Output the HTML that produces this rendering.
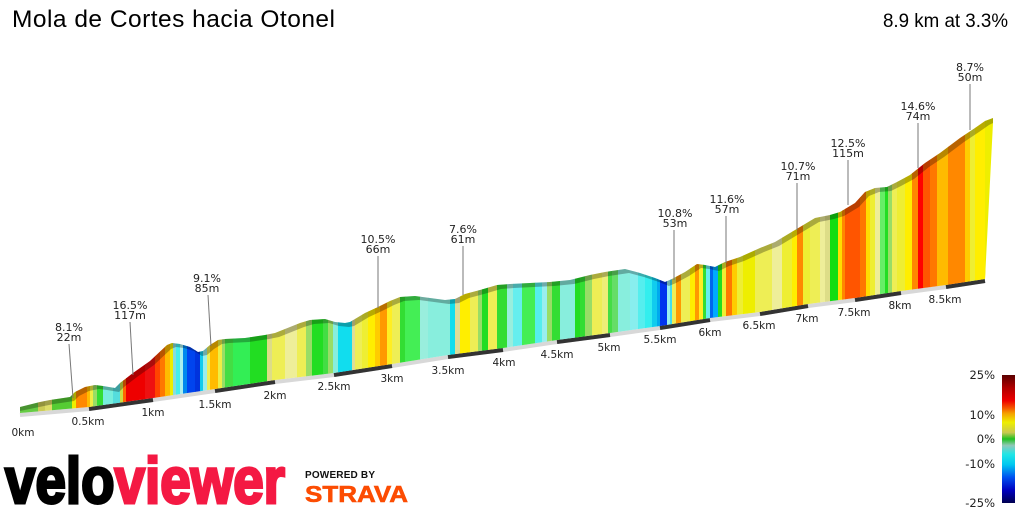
<!DOCTYPE html>
<html><head><meta charset="utf-8"><style>
html,body{margin:0;padding:0;background:#fff;}
svg{display:block;}
</style></head><body>
<svg width="1024" height="512" viewBox="0 0 1024 512" xmlns="http://www.w3.org/2000/svg">
<defs>
<clipPath id="cp">
<polygon points="20,407 40,402 50,400 70,397 75,392 85,387 95,385 103,386 115,388 120,383 133,373 150,361 167,345 172,343 180,344 190,347 198,352 203,351 210,345 218,340 225,339 245,338 265,335 275,333 290,327 300,323 310,320 325,319 335,322 345,323 350,322 365,313 378,307 390,301 400,297 415,296 430,298 445,300 455,299 465,294 480,290 497,285 510,284 530,283 550,282 570,280 590,275 605,272 625,269 640,273 655,278 665,282 672,279 685,272 697,264 705,265 715,267 725,262 740,257 760,248 775,242 790,233 800,227 815,218 830,215 840,212 855,203 865,192 875,188 887,187 897,182 910,175 925,163 940,153 960,138 975,128 985,121 993,118 993,123 985,279 946,285 901,291 855,298 808,304 760,312 710,318 660,326 610,333 557,340 503,348 448,355 392,364 334,373 275,380 215,389 153,398 89,407 20,413"/>
</clipPath>
<linearGradient id="lg" x1="0" y1="0" x2="0" y2="1">
<stop offset="0" stop-color="#5a0000"/>
<stop offset="0.1" stop-color="#b00000"/>
<stop offset="0.2" stop-color="#ee0000"/>
<stop offset="0.26" stop-color="#f55a00"/>
<stop offset="0.3" stop-color="#f5a000"/>
<stop offset="0.37" stop-color="#eeee00"/>
<stop offset="0.45" stop-color="#c8c850"/>
<stop offset="0.5" stop-color="#20c020"/>
<stop offset="0.55" stop-color="#90c8b8"/>
<stop offset="0.62" stop-color="#20e6e6"/>
<stop offset="0.7" stop-color="#00c8f0"/>
<stop offset="0.8" stop-color="#0050f0"/>
<stop offset="0.9" stop-color="#0000c0"/>
<stop offset="1" stop-color="#000050"/>
</linearGradient>
</defs>

<!-- Title -->
<text x="12" y="27" font-family="Liberation Sans, Arial, sans-serif" font-size="24.5" fill="#000" textLength="323" lengthAdjust="spacing">Mola de Cortes hacia Otonel</text>
<text x="883" y="27" font-family="Liberation Sans, Arial, sans-serif" font-size="19.5" fill="#000" textLength="125" lengthAdjust="spacingAndGlyphs">8.9 km at 3.3%</text>

<!-- band -->
<polyline points="20,415 89,409 153,400 215,391 275,382 334,375 392,366 448,357 503,350 557,342 610,335 660,328 710,320 760,314 808,306 855,300 901,293 946,287 985,281" fill="none" stroke="#d8d8d8" stroke-width="4"/>
<g stroke="#333" stroke-width="4">
<line x1="89" y1="409" x2="153" y2="400"/>
<line x1="215" y1="391" x2="275" y2="382"/>
<line x1="334" y1="375" x2="392" y2="366"/>
<line x1="448" y1="357" x2="503" y2="350"/>
<line x1="557" y1="342" x2="610" y2="335"/>
<line x1="660" y1="328" x2="710" y2="320"/>
<line x1="760" y1="314" x2="808" y2="306"/>
<line x1="855" y1="300" x2="901" y2="293"/>
<line x1="946" y1="287" x2="985" y2="281"/>
</g>

<!-- profile strips -->
<g clip-path="url(#cp)">
<rect x="20" y="100" width="18.5" height="330" fill="#66cc44"/>
<rect x="38" y="100" width="7.5" height="330" fill="#cccc55"/>
<rect x="45" y="100" width="7.5" height="330" fill="#dddd66"/>
<rect x="52" y="100" width="20.5" height="330" fill="#55cc33"/>
<rect x="72" y="100" width="4.5" height="330" fill="#eeee00"/>
<rect x="76" y="100" width="11.5" height="330" fill="#ff8800"/>
<rect x="87" y="100" width="3.5" height="330" fill="#ffbb00"/>
<rect x="90" y="100" width="3.5" height="330" fill="#eeee44"/>
<rect x="93" y="100" width="4.5" height="330" fill="#99dd66"/>
<rect x="97" y="100" width="6.5" height="330" fill="#33dd33"/>
<rect x="103" y="100" width="10.5" height="330" fill="#77eedd"/>
<rect x="113" y="100" width="7.5" height="330" fill="#55dddd"/>
<rect x="120" y="100" width="3.5" height="330" fill="#ccdd44"/>
<rect x="123" y="100" width="3.5" height="330" fill="#ff6600"/>
<rect x="126" y="100" width="19.5" height="330" fill="#ee0000"/>
<rect x="145" y="100" width="10.5" height="330" fill="#ee1111"/>
<rect x="155" y="100" width="5.5" height="330" fill="#ff4400"/>
<rect x="160" y="100" width="5.5" height="330" fill="#ff7700"/>
<rect x="165" y="100" width="5.5" height="330" fill="#ffbb00"/>
<rect x="170" y="100" width="3.5" height="330" fill="#eeee00"/>
<rect x="173" y="100" width="3.5" height="330" fill="#88dddd"/>
<rect x="176" y="100" width="4.5" height="330" fill="#44eeee"/>
<rect x="180" y="100" width="3.5" height="330" fill="#aaeeee"/>
<rect x="183" y="100" width="4.5" height="330" fill="#0088ee"/>
<rect x="187" y="100" width="8.5" height="330" fill="#0044ee"/>
<rect x="195" y="100" width="5.5" height="330" fill="#0033dd"/>
<rect x="200" y="100" width="3.5" height="330" fill="#11ccee"/>
<rect x="203" y="100" width="4.5" height="330" fill="#99eeee"/>
<rect x="207" y="100" width="3.5" height="330" fill="#eeee55"/>
<rect x="210" y="100" width="8.5" height="330" fill="#ffbb00"/>
<rect x="218" y="100" width="4.5" height="330" fill="#eeee44"/>
<rect x="222" y="100" width="3.5" height="330" fill="#99dd66"/>
<rect x="225" y="100" width="8.5" height="330" fill="#44dd44"/>
<rect x="233" y="100" width="17.5" height="330" fill="#33ee55"/>
<rect x="250" y="100" width="17.5" height="330" fill="#22dd22"/>
<rect x="267" y="100" width="5.5" height="330" fill="#dddd88"/>
<rect x="272" y="100" width="13.5" height="330" fill="#eeee55"/>
<rect x="285" y="100" width="12.5" height="330" fill="#eeee99"/>
<rect x="297" y="100" width="9.5" height="330" fill="#eeee55"/>
<rect x="306" y="100" width="6.5" height="330" fill="#99dd66"/>
<rect x="312" y="100" width="11.5" height="330" fill="#22dd22"/>
<rect x="323" y="100" width="5.5" height="330" fill="#44dd44"/>
<rect x="328" y="100" width="5.5" height="330" fill="#99dd66"/>
<rect x="333" y="100" width="5.5" height="330" fill="#88eedd"/>
<rect x="338" y="100" width="14.5" height="330" fill="#11ddee"/>
<rect x="352" y="100" width="3.5" height="330" fill="#dddd99"/>
<rect x="355" y="100" width="7.5" height="330" fill="#eeee55"/>
<rect x="362" y="100" width="6.5" height="330" fill="#eeee33"/>
<rect x="368" y="100" width="7.5" height="330" fill="#ffee00"/>
<rect x="375" y="100" width="5.5" height="330" fill="#ffcc00"/>
<rect x="380" y="100" width="7.5" height="330" fill="#ff9900"/>
<rect x="387" y="100" width="5.5" height="330" fill="#ffee22"/>
<rect x="392" y="100" width="8.5" height="330" fill="#eeee55"/>
<rect x="400" y="100" width="5.5" height="330" fill="#33dd33"/>
<rect x="405" y="100" width="15.5" height="330" fill="#44ee55"/>
<rect x="420" y="100" width="8.5" height="330" fill="#99eedd"/>
<rect x="428" y="100" width="22.5" height="330" fill="#88eedd"/>
<rect x="450" y="100" width="5.5" height="330" fill="#11ddee"/>
<rect x="455" y="100" width="5.5" height="330" fill="#dddd99"/>
<rect x="460" y="100" width="10.5" height="330" fill="#ffee00"/>
<rect x="470" y="100" width="8.5" height="330" fill="#eeee55"/>
<rect x="478" y="100" width="4.5" height="330" fill="#99dd66"/>
<rect x="482" y="100" width="6.5" height="330" fill="#22dd22"/>
<rect x="488" y="100" width="9.5" height="330" fill="#eeee55"/>
<rect x="497" y="100" width="10.5" height="330" fill="#33dd33"/>
<rect x="507" y="100" width="6.5" height="330" fill="#99eedd"/>
<rect x="513" y="100" width="9.5" height="330" fill="#66eeee"/>
<rect x="522" y="100" width="13.5" height="330" fill="#44ee55"/>
<rect x="535" y="100" width="7.5" height="330" fill="#55eeee"/>
<rect x="542" y="100" width="5.5" height="330" fill="#99eeee"/>
<rect x="547" y="100" width="5.5" height="330" fill="#99dd66"/>
<rect x="552" y="100" width="8.5" height="330" fill="#33dd33"/>
<rect x="560" y="100" width="15.5" height="330" fill="#88eedd"/>
<rect x="575" y="100" width="5.5" height="330" fill="#22dd22"/>
<rect x="580" y="100" width="5.5" height="330" fill="#33dd33"/>
<rect x="585" y="100" width="7.5" height="330" fill="#99dd66"/>
<rect x="592" y="100" width="10.5" height="330" fill="#eeee55"/>
<rect x="602" y="100" width="6.5" height="330" fill="#eeee77"/>
<rect x="608" y="100" width="4.5" height="330" fill="#44dd44"/>
<rect x="612" y="100" width="6.5" height="330" fill="#66dd66"/>
<rect x="618" y="100" width="12.5" height="330" fill="#88eedd"/>
<rect x="630" y="100" width="8.5" height="330" fill="#88eeee"/>
<rect x="638" y="100" width="7.5" height="330" fill="#55eeee"/>
<rect x="645" y="100" width="7.5" height="330" fill="#33eeee"/>
<rect x="652" y="100" width="5.5" height="330" fill="#11ccee"/>
<rect x="657" y="100" width="3.5" height="330" fill="#00aaee"/>
<rect x="660" y="100" width="7.5" height="330" fill="#0033ee"/>
<rect x="667" y="100" width="3.5" height="330" fill="#99eeee"/>
<rect x="670" y="100" width="2.5" height="330" fill="#44ddee"/>
<rect x="672" y="100" width="4.5" height="330" fill="#eeee55"/>
<rect x="676" y="100" width="5.5" height="330" fill="#ff9900"/>
<rect x="681" y="100" width="9.5" height="330" fill="#eeee55"/>
<rect x="690" y="100" width="5.5" height="330" fill="#ffee00"/>
<rect x="695" y="100" width="4.5" height="330" fill="#ff9900"/>
<rect x="699" y="100" width="4.5" height="330" fill="#ffee22"/>
<rect x="703" y="100" width="3.5" height="330" fill="#33dd33"/>
<rect x="706" y="100" width="4.5" height="330" fill="#66eeee"/>
<rect x="710" y="100" width="3.5" height="330" fill="#0066ee"/>
<rect x="713" y="100" width="5.5" height="330" fill="#00aaff"/>
<rect x="718" y="100" width="4.5" height="330" fill="#22dd22"/>
<rect x="722" y="100" width="4.5" height="330" fill="#eeee33"/>
<rect x="726" y="100" width="6.5" height="330" fill="#ff7700"/>
<rect x="732" y="100" width="5.5" height="330" fill="#ffcc00"/>
<rect x="737" y="100" width="6.5" height="330" fill="#eeee33"/>
<rect x="743" y="100" width="12.5" height="330" fill="#eeee00"/>
<rect x="755" y="100" width="17.5" height="330" fill="#eeee55"/>
<rect x="772" y="100" width="10.5" height="330" fill="#eeee99"/>
<rect x="782" y="100" width="10.5" height="330" fill="#eeee33"/>
<rect x="792" y="100" width="5.5" height="330" fill="#ffee00"/>
<rect x="797" y="100" width="6.5" height="330" fill="#ff8800"/>
<rect x="803" y="100" width="7.5" height="330" fill="#eeee33"/>
<rect x="810" y="100" width="10.5" height="330" fill="#eeee55"/>
<rect x="820" y="100" width="5.5" height="330" fill="#eeee99"/>
<rect x="825" y="100" width="5.5" height="330" fill="#dddd88"/>
<rect x="830" y="100" width="8.5" height="330" fill="#11dd11"/>
<rect x="838" y="100" width="4.5" height="330" fill="#ffdd00"/>
<rect x="842" y="100" width="3.5" height="330" fill="#ff8800"/>
<rect x="845" y="100" width="15.5" height="330" fill="#ff5500"/>
<rect x="860" y="100" width="6.5" height="330" fill="#ff7700"/>
<rect x="866" y="100" width="4.5" height="330" fill="#ffdd00"/>
<rect x="870" y="100" width="5.5" height="330" fill="#eeee33"/>
<rect x="875" y="100" width="5.5" height="330" fill="#eeee99"/>
<rect x="880" y="100" width="5.5" height="330" fill="#66ee66"/>
<rect x="885" y="100" width="3.5" height="330" fill="#22dd22"/>
<rect x="888" y="100" width="4.5" height="330" fill="#99dd66"/>
<rect x="892" y="100" width="5.5" height="330" fill="#eeee55"/>
<rect x="897" y="100" width="8.5" height="330" fill="#eeee33"/>
<rect x="905" y="100" width="7.5" height="330" fill="#ffee00"/>
<rect x="912" y="100" width="6.5" height="330" fill="#ff8800"/>
<rect x="918" y="100" width="5.5" height="330" fill="#ff0000"/>
<rect x="923" y="100" width="7.5" height="330" fill="#ff5500"/>
<rect x="930" y="100" width="7.5" height="330" fill="#ff7700"/>
<rect x="937" y="100" width="11.5" height="330" fill="#ffbb00"/>
<rect x="948" y="100" width="17.5" height="330" fill="#ff8800"/>
<rect x="965" y="100" width="5.5" height="330" fill="#ffcc00"/>
<rect x="970" y="100" width="5.5" height="330" fill="#eeee33"/>
<rect x="975" y="100" width="10.5" height="330" fill="#ffee00"/>
<rect x="985" y="100" width="9" height="330" fill="#eeee00"/>
</g>

<!-- top face shading -->
<polygon fill="#000" fill-opacity="0.28" points="20,407 40,402 50,400 70,397 75,392 85,387 95,385 103,386 115,388 120,383 133,373 150,361 167,345 172,343 180,344 190,347 198,352 203,351 210,345 218,340 225,339 245,338 265,335 275,333 290,327 300,323 310,320 325,319 335,322 345,323 350,322 365,313 378,307 390,301 400,297 415,296 430,298 445,300 455,299 465,294 480,290 497,285 510,284 530,283 550,282 570,280 590,275 605,272 625,269 640,273 655,278 665,282 672,279 685,272 697,264 705,265 715,267 725,262 740,257 760,248 775,242 790,233 800,227 815,218 830,215 840,212 855,203 865,192 875,188 887,187 897,182 910,175 925,163 940,153 960,138 975,128 985,121 993,118 993,123 989,125 979,132 964,142 944,157 929,167 914,179 901,186 891,191 879,192 869,196 859,207 844,216 834,219 819,222 804,231 794,237 779,246 764,252 744,261 729,266 719,271 709,269 701,268 689,276 676,283 669,286 659,282 644,277 629,273 609,276 594,279 574,284 554,286 534,287 514,288 501,289 484,294 469,298 459,303 449,304 434,302 419,300 404,301 394,305 382,311 369,317 354,326 349,327 339,326 329,323 314,324 304,327 294,331 279,337 269,339 249,342 229,343 222,344 214,349 207,355 202,356 194,351 184,348 176,347 171,349 154,365 137,377 124,387 119,392 107,390 99,389 89,391 79,396 74,401 54,404 44,406 20,411"/>

<!-- km labels -->
<g font-family="DejaVu Sans, Verdana, sans-serif" font-size="10.5" fill="#222" text-anchor="middle">
<text x="23" y="436">0km</text>
<text x="88" y="425">0.5km</text>
<text x="153" y="416">1km</text>
<text x="215" y="408">1.5km</text>
<text x="275" y="399">2km</text>
<text x="334" y="390">2.5km</text>
<text x="392" y="382">3km</text>
<text x="448" y="374">3.5km</text>
<text x="504" y="366">4km</text>
<text x="557" y="358">4.5km</text>
<text x="609" y="351">5km</text>
<text x="660" y="343">5.5km</text>
<text x="710" y="336">6km</text>
<text x="759" y="329">6.5km</text>
<text x="807" y="322">7km</text>
<text x="854" y="316">7.5km</text>
<text x="900" y="309">8km</text>
<text x="945" y="303">8.5km</text>
</g>

<!-- annotations -->
<g stroke="#777" stroke-width="1">
<line x1="69" y1="344" x2="73" y2="398"/>
<line x1="130" y1="322" x2="133" y2="375"/>
<line x1="208" y1="295" x2="211" y2="346"/>
<line x1="378" y1="256" x2="378" y2="308"/>
<line x1="463" y1="246" x2="463" y2="295"/>
<line x1="674" y1="230" x2="674" y2="280"/>
<line x1="726" y1="216" x2="726" y2="263"/>
<line x1="797" y1="183" x2="797" y2="230"/>
<line x1="848" y1="160" x2="848" y2="205"/>
<line x1="918" y1="123" x2="918" y2="168"/>
<line x1="970" y1="84" x2="970" y2="130"/>
</g>
<g font-family="DejaVu Sans, Verdana, sans-serif" font-size="11" fill="#222" text-anchor="middle">
<text x="69" y="331">8.1%</text><text x="69" y="341">22m</text>
<text x="130" y="309">16.5%</text><text x="130" y="319">117m</text>
<text x="207" y="282">9.1%</text><text x="207" y="292">85m</text>
<text x="378" y="243">10.5%</text><text x="378" y="253">66m</text>
<text x="463" y="233">7.6%</text><text x="463" y="243">61m</text>
<text x="675" y="217">10.8%</text><text x="675" y="227">53m</text>
<text x="727" y="203">11.6%</text><text x="727" y="213">57m</text>
<text x="798" y="170">10.7%</text><text x="798" y="180">71m</text>
<text x="848" y="147">12.5%</text><text x="848" y="157">115m</text>
<text x="918" y="110">14.6%</text><text x="918" y="120">74m</text>
<text x="970" y="71">8.7%</text><text x="970" y="81">50m</text>
</g>

<!-- legend -->
<rect x="1002" y="375" width="13" height="128" fill="url(#lg)"/>
<g font-family="DejaVu Sans, Verdana, sans-serif" font-size="11.5" fill="#222" text-anchor="end">
<text x="995" y="379">25%</text>
<text x="995" y="419">10%</text>
<text x="995" y="443">0%</text>
<text x="995" y="468">-10%</text>
<text x="995" y="507">-25%</text>
</g>

<!-- logos -->
<text x="5" y="503" font-family="Liberation Sans, Arial, sans-serif" font-weight="bold" font-size="65" textLength="280" lengthAdjust="spacingAndGlyphs" stroke-width="3"><tspan fill="#000" stroke="#000">velo</tspan><tspan fill="#f41943" stroke="#f41943">viewer</tspan></text>
<text x="305" y="478" font-family="Liberation Sans, Arial, sans-serif" font-weight="bold" font-size="10" fill="#111" textLength="70" lengthAdjust="spacing">POWERED BY</text>
<text x="305" y="502" font-family="Liberation Sans, Arial, sans-serif" font-weight="bold" font-size="23.5" fill="#fc4c02" stroke="#fc4c02" stroke-width="0.6" textLength="103" lengthAdjust="spacingAndGlyphs">STRAVA</text>
</svg>
</body></html>
